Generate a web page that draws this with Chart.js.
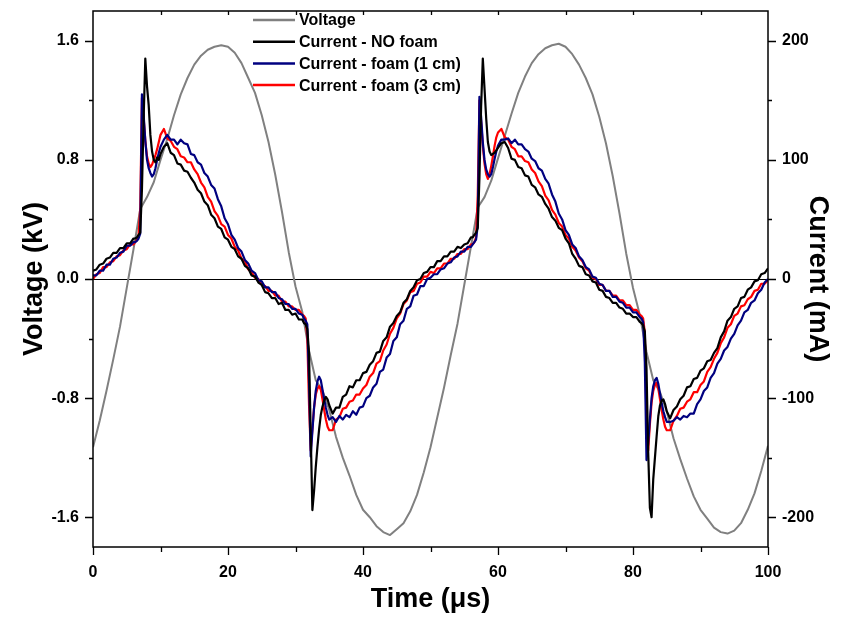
<!DOCTYPE html>
<html>
<head>
<meta charset="utf-8">
<script src="https://cdn.jsdelivr.net/npm/chart.js@4.4.0/dist/chart.umd.min.js"></script>
<style>
  html, body { margin: 0; padding: 0; background: #fff; }
  #c { display: block; }
</style>
</head>
<body>
<canvas id="c" width="856" height="621"></canvas>
<script>
/* ===== Data ===== */
// voltage, sampled every 1 us (kV)
const tVolt = [0,1,2,3,4,5,6,7,8,9,10,11,12,13,14,15,16,17,18,19,20,21,22,23,24,25,26,27,28,29,30,31,32,33,34,35,36,37,38,39,40,41,42,43,44,45,46,47,48,49,
  50,51,52,53,54,55,56,57,58,59,60,61,62,63,64,65,66,67,68,69,70,71,72,73,74,75,76,77,78,79,80,81,82,83,84,85,86,87,88,89,90,91,92,93,94,95,96,97,98,99,100];
const voltage = [-1.13,-0.95,-0.75,-0.54,-0.32,-0.06,0.20,0.47,0.55,0.65,0.80,0.94,1.10,1.24,1.35,1.44,1.50,1.54,1.56,1.57,1.56,1.52,1.45,1.35,1.25,1.10,0.92,0.70,0.45,0.18,
  -0.05,-0.22,-0.48,-0.68,-0.75,-0.88,-1.06,-1.20,-1.32,-1.45,-1.55,-1.60,-1.66,-1.70,-1.72,-1.68,-1.64,-1.56,-1.45,-1.30,
  -1.13,-0.93,-0.73,-0.51,-0.30,-0.04,0.22,0.48,0.55,0.66,0.81,0.96,1.11,1.25,1.36,1.45,1.51,1.55,1.57,1.58,1.56,1.51,1.44,1.35,1.24,1.09,0.91,0.69,0.44,0.17,
  -0.06,-0.24,-0.49,-0.68,-0.76,-0.89,-1.07,-1.21,-1.34,-1.46,-1.55,-1.61,-1.67,-1.70,-1.71,-1.69,-1.64,-1.55,-1.44,-1.29,-1.12];

// current sample times (us): 0.5 us, 0.25 us around the discharge spikes
const tCur = [0,0.5,1,1.5,2,2.5,3,3.5,4,4.5,5,5.5,6,
  6.25,6.5,6.75,7,7.25,7.5,7.75,8,8.25,8.5,8.75,9,9.25,9.5,9.75,10,
  10.5,11,11.5,12,12.5,13,13.5,14,14.5,15,15.5,16,16.5,17,17.5,18,18.5,19,19.5,20,20.5,21,21.5,22,22.5,23,23.5,24,24.5,25,25.5,26,26.5,27,27.5,28,28.5,29,29.5,30,30.5,31,
  31.25,31.5,31.75,32,32.25,32.5,32.75,33,33.25,33.5,33.75,34,34.25,34.5,34.75,35,
  35.5,36,36.5,37,37.5,38,38.5,39,39.5,40,40.5,41,41.5,42,42.5,43,43.5,44,44.5,45,45.5,46,46.5,47,47.5,48,48.5,49,49.5,50,50.5,51,51.5,52,52.5,53,53.5,54,54.5,55,55.5,56,
  56.25,56.5,56.75,57,57.25,57.5,57.75,58,58.25,58.5,58.75,59,59.25,59.5,59.75,60,
  60.5,61,61.5,62,62.5,63,63.5,64,64.5,65,65.5,66,66.5,67,67.5,68,68.5,69,69.5,70,70.5,71,71.5,72,72.5,73,73.5,74,74.5,75,75.5,76,76.5,77,77.5,78,78.5,79,79.5,80,80.5,81,
  81.25,81.5,81.75,82,82.25,82.5,82.75,83,83.25,83.5,83.75,84,84.25,84.5,84.75,85,
  85.5,86,86.5,87,87.5,88,88.5,89,89.5,90,90.5,91,91.5,92,92.5,93,93.5,94,94.5,95,95.5,96,96.5,97,97.5,98,98.5,99,99.5,100];

// current (mA)
const curNoFoam = [7,8,12,13,17,18,22,22,26,26,30,30,34,
  34,35,37,39,75,135,185,162,146,121,107,100,98,102,100,105,
  111,114,106,104,97,96,91,90,85,81,75,72,65,62,54,51,44,42,35,33,27,25,19,17,11,9,3,2,-3,-5,-11,-12,-16,-16,-21,-20,-26,-26,-30,-29,-34,-34,
  -37,-38,-42,-62,-128,-194,-178,-158,-141,-126,-114,-107,-102,-99,-101,-106,
  -113,-108,-108,-99,-97,-90,-91,-85,-85,-79,-78,-72,-69,-62,-61,-52,-49,-40,-37,-31,-28,-20,-17,-10,-7,-1,0,5,6,10,10,15,15,19,19,23,23,27,26,29,30,35,
  35,37,39,43,85,145,185,160,135,115,107,104,105,106,108,110,
  114,115,110,101,100,94,93,87,86,79,77,71,69,63,59,52,49,43,41,34,30,21,17,11,10,4,3,-2,-3,-9,-10,-15,-16,-20,-20,-24,-25,-29,-29,-32,-32,-36,
  -37,-39,-44,-75,-145,-192,-200,-168,-150,-132,-115,-106,-102,-101,-105,-111,
  -117,-110,-107,-101,-98,-91,-90,-84,-83,-77,-75,-69,-68,-62,-58,-49,-44,-35,-32,-25,-23,-16,-15,-9,-7,-2,-1,4,5,9];
const curFoam1 = [3,3,7,7,12,12,17,18,22,23,28,28,31,
  31,32,34,38,155,138,116,100,93,89,86,88,93,100,106,111,
  117,121,117,117,113,117,114,113,105,104,98,96,89,86,79,76,67,61,51,46,37,33,26,23,16,13,7,5,-1,-2,-7,-7,-11,-11,-16,-17,-21,-21,-25,-25,-29,-30,
  -33,-35,-38,-85,-149,-128,-108,-94,-86,-82,-85,-93,-101,-108,-114,-118,
  -116,-120,-115,-118,-114,-116,-111,-114,-108,-107,-100,-98,-91,-88,-78,-76,-66,-63,-52,-49,-38,-35,-25,-23,-14,-13,-6,-6,0,1,4,4,8,9,13,14,18,19,23,23,27,27,
  29,31,33,45,153,136,115,100,92,88,86,88,94,101,107,112,
  117,117,118,114,117,113,113,109,107,101,99,93,91,84,80,71,65,55,50,41,37,29,26,19,16,10,8,2,1,-4,-5,-10,-10,-15,-15,-19,-20,-24,-24,-28,-28,-32,
  -33,-36,-70,-152,-138,-118,-100,-90,-85,-83,-88,-96,-104,-111,-116,-120,
  -120,-119,-116,-118,-115,-116,-113,-113,-105,-101,-94,-91,-83,-79,-71,-67,-60,-57,-50,-46,-39,-35,-28,-26,-20,-18,-12,-9,-3,0];
const curFoam3 = [0,4,5,10,10,14,15,19,20,24,25,29,29,
  31,33,36,60,152,135,116,103,97,94,96,100,104,109,115,121,
  126,118,116,111,109,103,102,98,98,92,88,81,77,69,65,57,53,46,44,37,34,27,24,17,15,8,6,1,0,-5,-6,-10,-10,-14,-14,-19,-19,-23,-23,-26,-26,-30,
  -31,-33,-50,-105,-144,-126,-108,-97,-92,-90,-93,-101,-110,-118,-124,-127,
  -127,-118,-116,-109,-108,-103,-102,-97,-97,-92,-89,-82,-79,-71,-69,-60,-55,-46,-41,-33,-29,-21,-18,-11,-10,-4,-3,2,2,6,5,9,9,13,13,17,17,21,21,25,25,29,
  29,31,35,70,150,132,112,97,88,84,88,95,103,112,119,123,
  126,119,117,111,109,103,103,99,98,92,89,82,78,70,66,58,54,47,44,37,34,27,24,18,15,9,7,1,0,-5,-5,-10,-10,-14,-14,-18,-18,-22,-22,-26,-26,-30,
  -31,-33,-45,-120,-144,-122,-104,-94,-89,-87,-92,-101,-110,-118,-124,-127,
  -127,-119,-115,-109,-108,-103,-101,-95,-95,-89,-86,-78,-74,-67,-62,-54,-49,-41,-38,-31,-29,-23,-22,-17,-15,-10,-9,-4,-4,-1];

// axis ticks (minor ticks get no label)
const timeTicks  = [0,10,20,30,40,50,60,70,80,90,100];
const timeLabels = [0,20,40,60,80,100];
const voltTicks  = [-1.6,-1.2,-0.8,-0.4,0,0.4,0.8,1.2,1.6];
const voltLabels = [-1.6,-0.8,0,0.8,1.6];
const currTicks  = [-200,-150,-100,-50,0,50,100,150,200];
const currLabels = [-200,-100,0,100,200];

/* ===== helpers ===== */
const FONT = '"Liberation Sans", Arial, Helvetica, sans-serif';
const pairs = (xs, ys) => xs.map((x, i) => ({x, y: ys[i]}));
const tickFont = {family: FONT, size: 16, weight: 'bold'};
const titleFont = {family: FONT, size: 27, weight: 'bold'};
// invisible tick marks only reserve room between axis and labels; real marks are drawn below
const hiddenGrid = len => ({display: true, drawOnChartArea: false, drawTicks: true, tickLength: len, tickColor: 'rgba(0,0,0,0)'});

/* ===== frame, ticks, zero line, legend ===== */
const decor = {
  id: 'decor',
  beforeDatasetsDraw(chart){
    const {ctx, chartArea: a, scales} = chart;
    const y0 = Math.round(scales.yV.getPixelForValue(0)) + 0.5;
    ctx.save();
    ctx.strokeStyle = '#000'; ctx.lineWidth = 1.2;
    ctx.beginPath(); ctx.moveTo(a.left, y0); ctx.lineTo(a.right, y0); ctx.stroke();
    ctx.restore();
  },
  afterDraw(chart){
    const {ctx, chartArea: a, scales} = chart;
    ctx.save();
    ctx.strokeStyle = '#000'; ctx.lineWidth = 1.5;
    ctx.strokeRect(a.left, a.top, a.right - a.left, a.bottom - a.top);
    ctx.lineWidth = 1.3;
    ctx.beginPath();
    voltTicks.forEach(v => {
      const y = Math.round(scales.yV.getPixelForValue(v)) + 0.5;
      const len = voltLabels.includes(v) ? 8 : 4;
      ctx.moveTo(a.left - len, y); ctx.lineTo(a.left, y);
    });
    currTicks.forEach(v => {
      const y = Math.round(scales.yI.getPixelForValue(v)) + 0.5;
      const len = currLabels.includes(v) ? 8 : 4;
      ctx.moveTo(a.right, y); ctx.lineTo(a.right + len, y);
    });
    timeTicks.forEach(v => {
      const x = Math.round(scales.x.getPixelForValue(v)) + 0.5;
      const len = timeLabels.includes(v) ? 8 : 5;
      ctx.moveTo(x, a.bottom); ctx.lineTo(x, a.bottom + len);
      if (v > 0 && v < 100){ ctx.moveTo(x, a.top); ctx.lineTo(x, a.top + 4); }
    });
    ctx.stroke();

    // legend, inside the plot near the top
    const lx = 253, tx = 299;
    ctx.font = 'bold 16px ' + FONT;
    ctx.textBaseline = 'middle';
    ctx.fillStyle = '#000';
    chart.data.datasets.forEach((ds, i) => {
      const y = 20 + i * 21.7;
      ctx.strokeStyle = ds.borderColor; ctx.lineWidth = 2.5;
      ctx.beginPath(); ctx.moveTo(lx, y); ctx.lineTo(lx + 42, y); ctx.stroke();
      ctx.fillText(ds.label, tx, y + 1);
    });
    ctx.restore();
  }
};

/* ===== Chart ===== */
new Chart(document.getElementById('c'), {
  type: 'line',
  data: {
    datasets: [
      {label: 'Voltage', data: pairs(tVolt, voltage), yAxisID: 'yV', borderColor: '#808080', order: 4},
      {label: 'Current - NO foam', data: pairs(tCur, curNoFoam), yAxisID: 'yI', borderColor: '#000000', borderWidth: 2.2, order: 1},
      {label: 'Current - foam (1 cm)', data: pairs(tCur, curFoam1), yAxisID: 'yI', borderColor: '#000080', borderWidth: 2.2, order: 2},
      {label: 'Current - foam (3 cm)', data: pairs(tCur, curFoam3), yAxisID: 'yI', borderColor: '#ff0000', borderWidth: 2.2, order: 3}
    ]
  },
  options: {
    responsive: false,
    animation: false,
    devicePixelRatio: 1,
    layout: {padding: {top: 11, left: 0, right: 0, bottom: 0}},
    elements: {
      point: {radius: 0},
      line: {tension: 0, borderWidth: 2, borderJoinStyle: 'round', fill: false}
    },
    plugins: {legend: {display: false}, tooltip: {enabled: false}},
    scales: {
      x: {
        type: 'linear', position: 'bottom', min: 0, max: 100,
        afterBuildTicks: ax => { ax.ticks = timeTicks.map(v => ({value: v})); },
        afterFit: ax => { ax.height = 74; },
        grid: hiddenGrid(16), border: {display: false},
        ticks: {autoSkip: false, maxRotation: 0, padding: 0, color: '#000', font: tickFont,
                callback: v => timeLabels.includes(v) ? String(v) : ''},
        title: {display: true, text: 'Time (μs)', color: '#000', font: titleFont, padding: {top: 0, bottom: 5}}
      },
      yV: {
        type: 'linear', position: 'left', min: -1.8, max: 1.8,
        afterBuildTicks: ax => { ax.ticks = voltTicks.map(v => ({value: v})); },
        afterFit: ax => { ax.width = 93; },
        grid: hiddenGrid(14), border: {display: false},
        ticks: {autoSkip: false, padding: 0, color: '#000', font: tickFont,
                callback: v => voltLabels.includes(v) ? v.toFixed(1) : ''},
        title: {display: true, text: 'Voltage (kV)', color: '#000', font: titleFont, padding: {top: 18, bottom: 0}}
      },
      yI: {
        type: 'linear', position: 'right', min: -225, max: 225,
        afterBuildTicks: ax => { ax.ticks = currTicks.map(v => ({value: v})); },
        afterFit: ax => { ax.width = 88; },
        grid: hiddenGrid(14), border: {display: false},
        ticks: {autoSkip: false, padding: 0, color: '#000', font: tickFont,
                callback: v => currLabels.includes(v) ? String(v) : ''},
        title: {display: true, text: 'Current (mA)', color: '#000', font: titleFont, padding: {top: 22, bottom: 0}}
      }
    }
  },
  plugins: [decor]
});
</script>
</body>
</html>
